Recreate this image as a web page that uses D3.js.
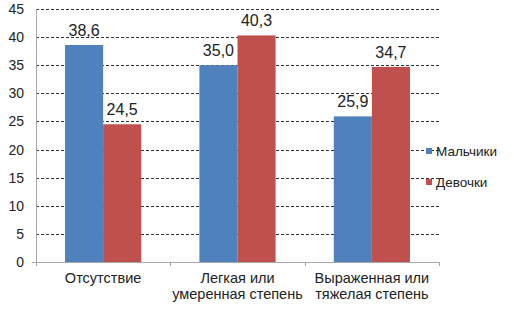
<!DOCTYPE html>
<html>
<head>
<meta charset="utf-8">
<script src="https://cdn.jsdelivr.net/npm/d3@7"></script>
<style>
  body { margin: 0; background: #fff; }
  svg { font-family: "Liberation Sans", Arial, sans-serif; }
</style>
</head>
<body>
<div id="chart"></div>
<script>
const categories = [["Отсутствие"], ["Легкая или", "умеренная степень"], ["Выраженная или", "тяжелая степень"]];
const seriesNames = ["Мальчики", "Девочки"];
const boys = [38.6, 35.0, 25.9];
const girls = [24.5, 40.3, 34.7];
const yTicks = [0, 5, 10, 15, 20, 25, 30, 35, 40, 45];
const colors = ["#4f81bd", "#c0504d"];

const svgWidth = 514, svgHeight = 315;
const margin = { top: 9, right: 75, bottom: 54, left: 36 };

const svg = d3.select("#chart").append("svg").
  attr("width", svgWidth).
  attr("height", svgHeight);

const x = d3.scaleBand().
  domain(d3.range(categories.length)).
  range([margin.left, 439]).
  paddingInner(0.433).
  paddingOuter(0.216);

const x1 = d3.scaleBand().
  domain(d3.range(seriesNames.length)).
  range([0, x.bandwidth()]);

const y = d3.scaleLinear().
  domain([0, 45]).
  range([svgHeight - margin.bottom + 1, margin.top]);

// grid lines
svg.append("g").
  selectAll("line").
  data(yTicks.slice(1)).
  join("line").
  attr("x1", margin.left).
  attr("x2", 439).
  attr("y1", d => Math.round(y(d)) + 0.5).
  attr("y2", d => Math.round(y(d)) + 0.5).
  attr("stroke", "#333").
  attr("stroke-width", 1).
  attr("stroke-dasharray", "3,2");

// y axis labels
svg.append("g").
  selectAll("text").
  data(yTicks).
  join("text").
  attr("x", 24).
  attr("y", d => y(d) + 5).
  attr("text-anchor", "end").
  attr("font-size", 14).
  attr("fill", "#222").
  text(d => d);

// bars
const series = [boys, girls];
const groups = svg.append("g").
  selectAll("g").
  data(categories).
  join("g").
  attr("transform", (d, i) => `translate(${x(i)},0)`);

groups.selectAll("rect").
  data((d, i) => series.map((s, j) => ({ v: s[i], j }))).
  join("rect").
  attr("x", d => x1(d.j)).
  attr("y", d => y(d.v)).
  attr("width", x1.bandwidth()).
  attr("height", d => y(0) - y(d.v)).
  attr("fill", d => colors[d.j]);

groups.selectAll("text.val").
  data((d, i) => series.map((s, j) => ({ v: s[i], j }))).
  join("text").
  attr("class", "val").
  attr("x", d => x1(d.j) + x1.bandwidth() / 2).
  attr("y", d => y(d.v) - 9).
  attr("text-anchor", "middle").
  attr("font-size", 16).
  attr("fill", "#222").
  text(d => d3.format(".1f")(d.v).replace(".", ","));

// axes lines
svg.append("line").
  attr("x1", margin.left + 0.5).
  attr("x2", margin.left + 0.5).
  attr("y1", margin.top).
  attr("y2", y(0) + 4).
  attr("stroke", "#a6a6a6");

svg.append("line").
  attr("x1", margin.left - 4).
  attr("x2", 439).
  attr("y1", Math.round(y(0)) + 0.5).
  attr("y2", Math.round(y(0)) + 0.5).
  attr("stroke", "#a6a6a6");

// category ticks
svg.append("g").
  selectAll("line").
  data([170, 305, 439]).
  join("line").
  attr("x1", d => d + 0.5).
  attr("x2", d => d + 0.5).
  attr("y1", y(0)).
  attr("y2", y(0) + 4).
  attr("stroke", "#a6a6a6");

// category labels
const catText = svg.append("g").
  selectAll("text").
  data(categories).
  join("text").
  attr("x", (d, i) => x(i) + x.bandwidth() / 2).
  attr("y", 283).
  attr("text-anchor", "middle").
  attr("font-size", 14.5).
  attr("fill", "#222");

catText.selectAll("tspan").
  data(d => d).
  join("tspan").
  attr("x", function () { return d3.select(this.parentNode).attr("x"); }).
  attr("dy", (d, i) => i === 0 ? 0 : 16).
  text(d => d);

// legend
const legend = svg.append("g").
  selectAll("g").
  data(seriesNames).
  join("g").
  attr("transform", (d, i) => `translate(426,${148 + i * 31})`);

legend.append("rect").
  attr("width", 6).
  attr("height", 6).
  attr("fill", (d, i) => colors[i]);

legend.append("text").
  attr("x", 10).
  attr("y", 8).
  attr("font-size", 13.5).
  attr("fill", "#222").
  text(d => d);
</script>
</body>
</html>
